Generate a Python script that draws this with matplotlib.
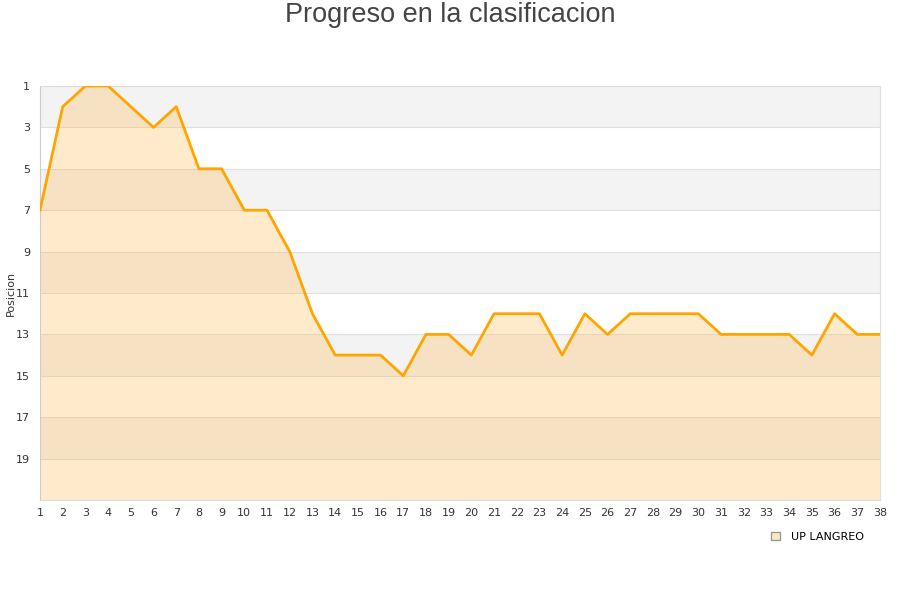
import matplotlib.pyplot as plt
from matplotlib.patches import Patch

jornadas = list(range(1, 39))
posiciones = [7, 2, 1, 1, 2, 3, 2, 5, 5, 7, 7, 9, 12, 14, 14, 14, 15, 13, 13, 14,
              12, 12, 12, 14, 12, 13, 12, 12, 12, 12, 13, 13, 13, 13, 14, 12, 13, 13]
equipo = "UP LANGREO"
y_ticks = list(range(1, 20, 2))

fig = plt.figure(figsize=(9, 6), dpi=100)
ax = fig.add_axes([40 / 900, 1 - 500 / 600, 840 / 900, 414 / 600])

# bandas alternas
for i, y0 in enumerate(range(1, 21, 2)):
    ax.axhspan(y0, y0 + 2, color="#f3f3f3" if i % 2 == 0 else "white", zorder=0, lw=0)
for y in y_ticks[1:] + [21]:
    ax.axhline(y, color="#e0e0e0", lw=0.8, zorder=1)

ax.fill_between(jornadas, posiciones, 21, color="#ffb333", alpha=0.25, zorder=2, lw=0)
ax.plot(jornadas, posiciones, color="#ffa500", lw=2.0, zorder=3)

ax.set_xlim(1, 38)
ax.set_ylim(21, 1)
ax.set_xticks(jornadas)
ax.set_yticks(y_ticks)
ax.tick_params(length=0, labelsize=8, colors="#333333", pad=6)
ax.tick_params(axis="y", pad=7)
ax.set_ylabel("Posicion", fontsize=8, color="#333333")
ax.yaxis.set_label_coords(-0.029, 0.5)
for s in ["top", "right", "bottom"]:
    ax.spines[s].set_color("#dddddd")
ax.spines["left"].set_color("#cccccc")

fig.text(0.5, 1 - 15 / 600, "Progreso en la clasificacion", ha="center", va="center",
         fontsize=19.5, color="#444444", family="Liberation Sans")

leg = fig.legend(handles=[Patch(facecolor="#ffe8c0", edgecolor="#999999", label=equipo)],
                 loc="center", bbox_to_anchor=(0.908, 0.105), frameon=False, fontsize=8,
                 handlelength=0.8, handleheight=0.8, handletextpad=1.0)

fig.savefig("out.png", dpi=100)
